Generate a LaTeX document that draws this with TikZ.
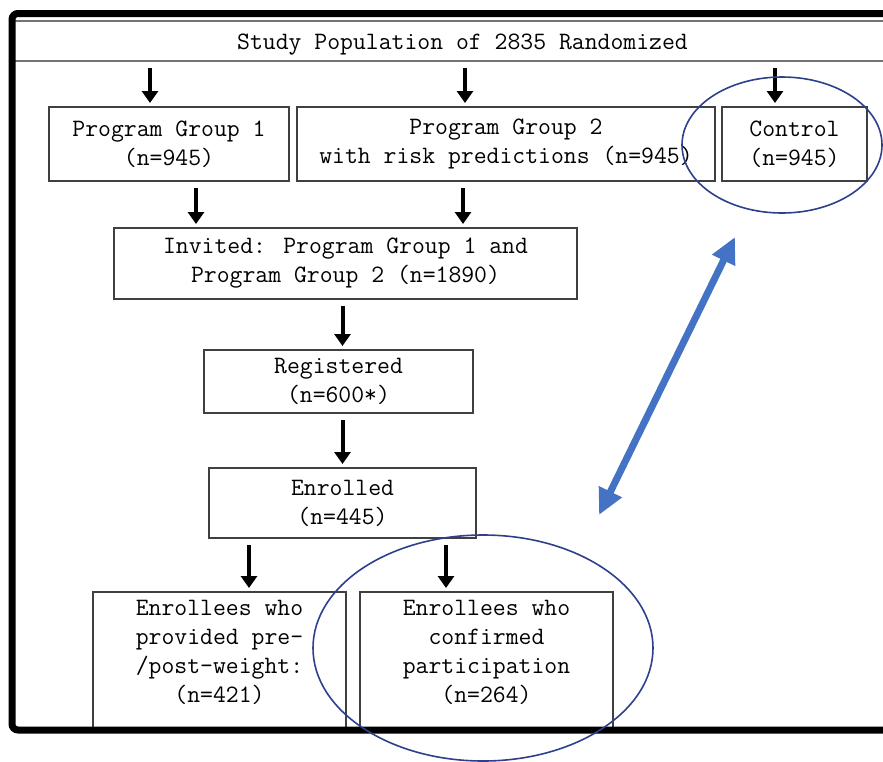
\documentclass[tikz,border=0pt]{standalone}
\usepackage{fontspec}
\usepackage{tikz}
\usetikzlibrary{positioning,arrows.meta}
\definecolor{ringblue}{RGB}{46,64,140}
\definecolor{arrowblue}{RGB}{68,114,196}

\begin{document}
\begin{tikzpicture}[x=0.5pt, y=-0.5pt,
box/.style = {rectangle, draw=black!75, line width=1pt, inner sep=0pt, outer sep=0pt, align=center},
down/.style = {line width=2pt, -{Triangle[width=8pt,length=6pt]}, shorten <=3.5pt, shorten >=2pt},
ring/.style = {draw=ringblue, line width=0.8pt},
link/.style = {arrowblue, line width=3.5pt, {Triangle[width=12pt,length=13pt]}-{Triangle[width=12pt,length=13pt]}}]
\tikzstyle{every node}=[font=\ttfamily\fontsize{12.5}{14.5}\selectfont, text=black]
\useasboundingbox (0,0) rectangle (883,761);
\node[box, draw=black!55, minimum width=450.5pt, minimum height=20pt, text height=8pt, text depth=0pt] (0) at (462.5,41) {Study Population of 2835 Randomized};
\node[box, minimum width=120pt, minimum height=37pt] (1) at (169,144) {Program Group 1\\(n=945)};
\node[box, minimum width=209pt, minimum height=37pt] (2) [right=4pt of 1] {Program Group 2\\with risk predictions (n=945)};
\node[box, minimum width=72.5pt, minimum height=37pt] (3) [right=3.5pt of 2] {Control\\(n=945)};
\node[box, minimum width=231.5pt, minimum height=35.5pt] (4) at (345.5,263.5) {Invited: Program Group 1 and\\Program Group 2 (n=1890)};
\node[box, minimum width=134.5pt, minimum height=31.5pt] (5) at (338.5,381.5) {Registered\\(n=600*)};
\node[box, minimum width=133.5pt, minimum height=35pt] (6) at (342.5,503) {Enrolled\\(n=445)};
\node[box, minimum width=126.5pt, minimum height=69pt] (7) at (219.5,661) {Enrollees who\\provided pre-\\/post-weight:\\(n=421)\\[-5pt]\mbox{}};
\node[box, minimum width=126.5pt, minimum height=69pt] (8) [right=7pt of 7] {Enrollees who\\confirmed\\participation\\(n=264)\\[-5pt]\mbox{}};
% arrow columns
\coordinate (t1) at (150,61);
\coordinate (t2) at (465,61);
\coordinate (t3) at (775,61);
\coordinate (m1) at (196,181);
\coordinate (m2) at (463,181);
\coordinate (b1) at (249,538);
\coordinate (b2) at (446,538);
\draw[down] (t1) -- (t1 |- 1.north);
\draw[down] (t2) -- (t2 |- 2.north);
\draw[down] (t3) -- (t3 |- 3.north);
\draw[down] (1.south -| m1) -- (4.north -| m1);
\draw[down] (2.south -| m2) -- (4.north -| m2);
\draw[down] (4.south -| 6.north) -- (5.north -| 6.north);
\draw[down] (5.south -| 6.north) -- (6.north);
\draw[down] (6.south -| b1) -- (7.north -| b1);
\draw[down] (6.south -| b2) -- (8.north -| b2);
% frame
\draw[line width=3.5pt, rounded corners=3pt] (900,13.5) -- (12,13.5) -- (12,730) -- (900,730);
% highlights
\draw[ring] (782,145) ellipse [x radius=50pt, y radius=34pt];
\draw[ring] (483,648) ellipse [x radius=85pt, y radius=56.5pt];
\coordinate (p) at (599,515);
\coordinate (q) at (735,237);
\draw[link] (p) -- (q);
\end{tikzpicture}
\end{document}
